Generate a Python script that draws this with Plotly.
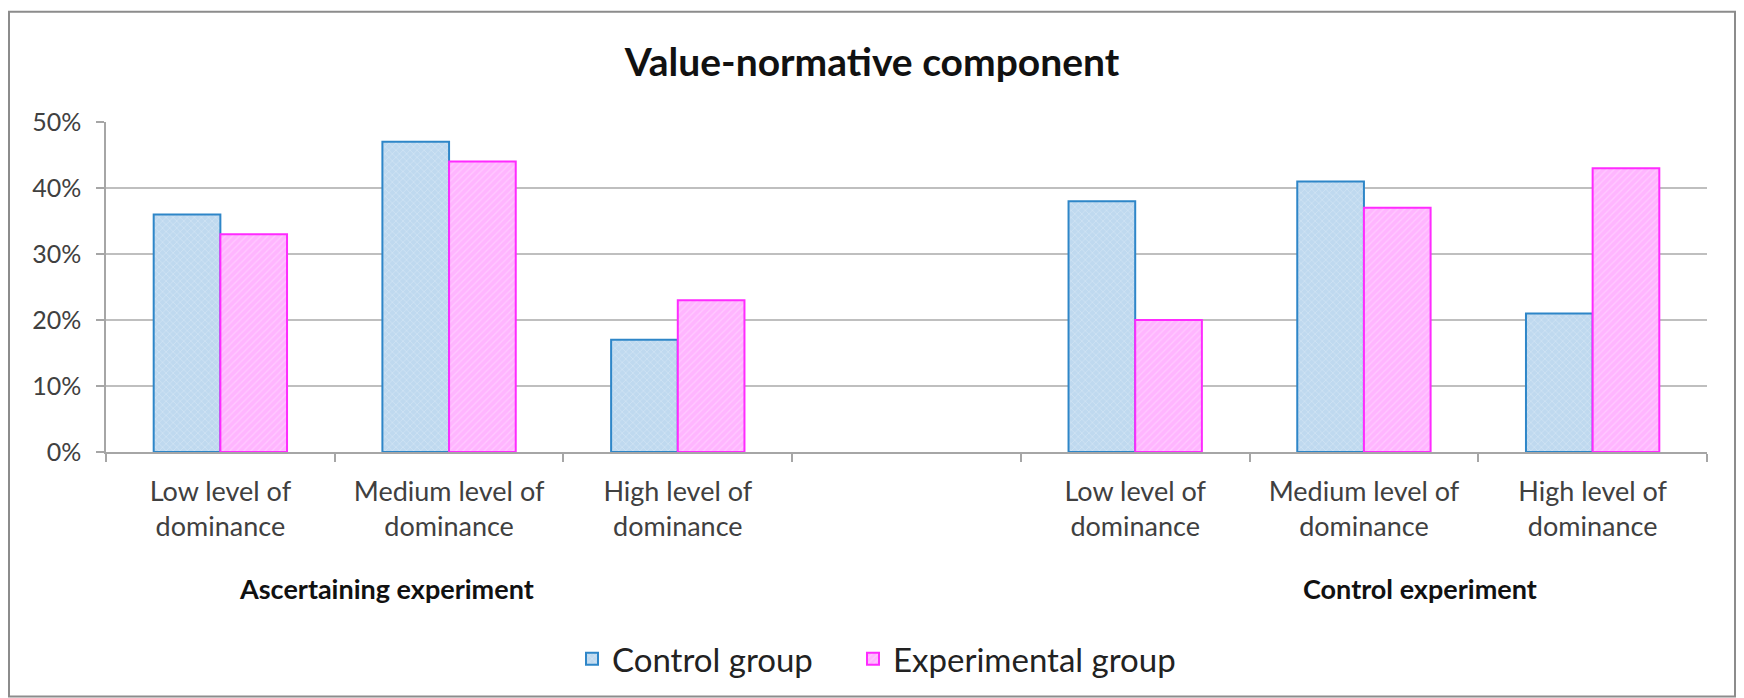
import plotly.graph_objects as go

categories = ["Low level of<br>dominance", "Medium level of<br>dominance", "High level of<br>dominance", "",
              "Low level of<br>dominance", "Medium level of<br>dominance", "High level of<br>dominance"]
control_group = [0.36, 0.47, 0.17, None, 0.38, 0.41, 0.21]
experimental_group = [0.33, 0.44, 0.23, None, 0.20, 0.37, 0.43]
group_labels = ["Ascertaining experiment", "Control experiment"]
y_ticks = [0, 0.1, 0.2, 0.3, 0.4, 0.5]
y_ticktext = ["0%", "10%", "20%", "30%", "40%", "50%"]

x_idx = list(range(len(categories)))
FONT = "Lato"

fig = go.Figure()
fig.add_trace(go.Bar(
    x=x_idx, y=control_group, name="Control group", legend="legend",
    marker=dict(color="#BFD9EF", line=dict(color="#2E86C8", width=2),
                pattern=dict(shape="x", fgcolor="#E8F2FA", size=5, solidity=0.25, fillmode="overlay")),
))
fig.add_trace(go.Bar(
    x=x_idx, y=experimental_group, name="Experimental group", legend="legend2",
    marker=dict(color="#FFB5FF", line=dict(color="#FF2BFF", width=2),
                pattern=dict(shape="/", fgcolor="#FFE0FF", size=5, solidity=0.25, fillmode="overlay")),
))

# page has an 8px body margin; work in page pixels and convert
OFF = 8
W, H = 1744 - OFF, 698 - OFF
L, R, T, B = 106 - OFF, 37, 122 - OFF, 244
pw, ph = W - L - R, H - T - B

def px_x(x):
    return (x - OFF - L) / pw

def px_y(y):
    return (H - B - (y - OFF)) / ph

legend_style = dict(orientation="h", xanchor="left", yanchor="middle", y=px_y(662),
                    font=dict(family=FONT, size=33, color="#222222"), itemsizing="constant",
                    bgcolor="rgba(0,0,0,0)")

fig.update_layout(
    width=W, height=H,
    margin=dict(l=L, r=R, t=T, b=B),
    paper_bgcolor="white", plot_bgcolor="white",
    barmode="group", bargap=0.417, bargroupgap=0,
    font=dict(family=FONT, color="#404040", size=20),
    title=dict(text="<b>Value-normative component</b>", x=(872 - OFF) / W, xanchor="center",
               y=1 - (62 - OFF) / H, yanchor="middle", font=dict(family=FONT, size=39, color="#111111")),
    showlegend=True,
    legend=dict(x=px_x(572), **legend_style),
    legend2=dict(x=px_x(853), **legend_style),
    xaxis=dict(tickmode="array", tickvals=x_idx, ticktext=categories, range=[-0.5, len(categories) - 0.5],
               showgrid=False, showline=True, linecolor="#A6A6A6", linewidth=1.5, ticks="",
               tickfont=dict(family=FONT, size=27, color="#404040"), ticklabelstandoff=15,
               minor=dict(tickvals=[i - 0.5 for i in range(len(categories) + 1)], ticks="outside",
                          ticklen=8, tickcolor="#A6A6A6", tickwidth=1.5, showgrid=False),
               zeroline=False, fixedrange=True),
    yaxis=dict(range=[0, 0.5], tickvals=y_ticks, ticktext=y_ticktext, showgrid=True,
               gridcolor="#BFBFBF", gridwidth=1.5, showline=True, linecolor="#A6A6A6", linewidth=1.5,
               ticks="outside", ticklen=8, tickcolor="#A6A6A6", tickwidth=1.5, ticklabelstandoff=10,
               tickfont=dict(family=FONT, size=25, color="#404040"), zeroline=False, fixedrange=True),
)

fig.add_annotation(text="<b>" + group_labels[0] + "</b>", x=px_x(386), y=px_y(591), xref="paper", yref="paper",
                   xanchor="center", yanchor="middle",
                   showarrow=False, font=dict(family=FONT, size=27, color="#111111"))
fig.add_annotation(text="<b>" + group_labels[1] + "</b>", x=px_x(1420), y=px_y(591), xref="paper", yref="paper",
                   xanchor="center", yanchor="middle",
                   showarrow=False, font=dict(family=FONT, size=27, color="#111111"))

fig.add_shape(type="rect", xref="paper", yref="paper",
              x0=px_x(9), x1=px_x(1735), y0=px_y(700), y1=px_y(11),
              line=dict(color="#8C8C8C", width=2), fillcolor="rgba(0,0,0,0)", layer="below")

fig.write_html("out.html")
